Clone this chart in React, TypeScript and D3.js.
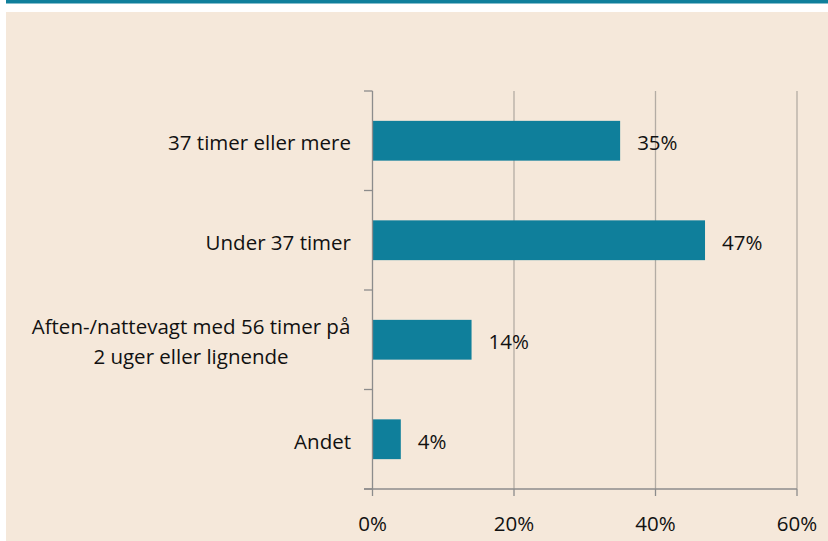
import React from "react";
import * as d3 from "d3";

const categories: string[][] = [
  ["37 timer eller mere"],
  ["Under 37 timer"],
  ["Aften-/nattevagt med 56 timer på", "2 uger eller lignende"],
  ["Andet"],
];
const values: number[] = [35, 47, 14, 4];
const xTicks: number[] = [0, 20, 40, 60];

const W = 828;
const H = 541;
const left = 372.5;
const right = 797;
const top = 91;
const bottom = 489;
const FONT = "'Open Sans', 'Noto Sans', sans-serif";
const FS = 20.5;
const TEAL = "#0f7f9b";

export default function App() {
  const x = d3.scaleLinear().domain([0, 60]).range([left, right]);
  const y = d3
    .scaleBand<number>()
    .domain(values.map((_, i) => i))
    .range([top, bottom])
    .paddingInner(0.6)
    .paddingOuter(0.3);
  const step = (bottom - top) / values.length;
  const catTicks = d3.range(values.length + 1).map((i) => top + i * step);

  return (
    <svg
      width={W}
      height={H}
      style={{ position: "absolute", left: 0, top: 0, display: "block" }}
    >
      <rect x={0} y={0} width={W} height={H} fill="#ffffff" />
      <rect x={6} y={0} width={W - 6} height={3.5} fill={TEAL} />
      <rect x={6} y={12} width={W - 6} height={H - 12} fill="#f5e8da" />
      {xTicks.slice(1).map((t) => (
        <line key={t} x1={x(t)} x2={x(t)} y1={top} y2={bottom} stroke="#b3aca4" strokeWidth={1.3} />
      ))}
      {values.map((v, i) => (
        <rect key={i} x={x(0)} y={y(i)} width={x(v) - x(0)} height={y.bandwidth()} fill={TEAL} />
      ))}
      <line x1={left} x2={left} y1={top} y2={bottom} stroke="#8c8c8c" strokeWidth={1.3} />
      <line x1={364} x2={right} y1={bottom} y2={bottom} stroke="#8c8c8c" strokeWidth={1.3} />
      {catTicks.map((t, i) => (
        <line key={i} x1={364} x2={left} y1={t} y2={t} stroke="#8c8c8c" strokeWidth={1.3} />
      ))}
      {xTicks.map((t) => (
        <line key={t} x1={x(t)} x2={x(t)} y1={bottom} y2={bottom + 7} stroke="#8c8c8c" strokeWidth={1.3} />
      ))}
      {xTicks.map((t) => (
        <text key={t} x={x(t)} y={531} textAnchor="middle" fontFamily={FONT} fontSize={FS} fill="#111">
          {t}%
        </text>
      ))}
      {categories.map((lines, i) => {
        const cy = (y(i) as number) + y.bandwidth() / 2;
        const lh = 30;
        const y0 = cy - ((lines.length - 1) * lh) / 2 + 9.5;
        return (
          <text key={i} fontFamily={FONT} fontSize={FS} fill="#111">
            {lines.map((l, j) => (
              <tspan
                key={j}
                x={lines.length > 1 ? 191 : 351}
                y={y0 + j * lh}
                textAnchor={lines.length > 1 ? "middle" : "end"}
              >
                {l}
              </tspan>
            ))}
          </text>
        );
      })}
      {values.map((v, i) => (
        <text
          key={i}
          x={x(v) + 17}
          y={(y(i) as number) + y.bandwidth() / 2 + 9.5}
          fontFamily={FONT}
          fontSize={FS}
          fill="#111"
        >
          {v}%
        </text>
      ))}
    </svg>
  );
}
